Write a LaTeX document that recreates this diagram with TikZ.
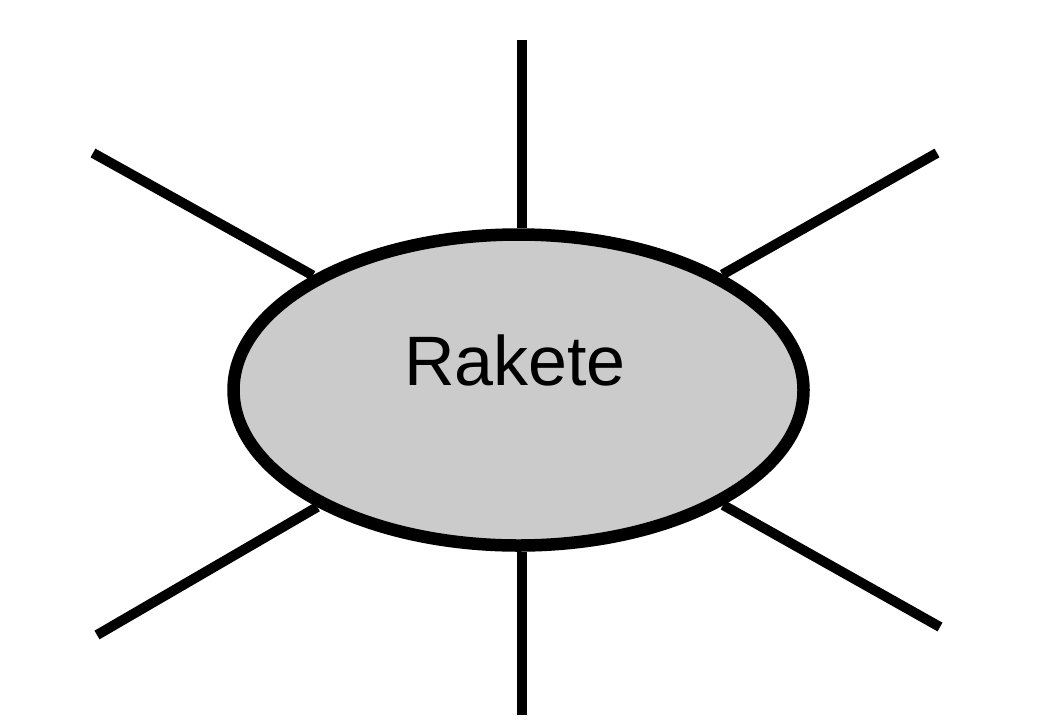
\documentclass[tikz,border=0pt]{standalone}
\usepackage{fontspec}
\setmainfont{Liberation Sans}
\usetikzlibrary{shapes.geometric}
\tikzset{
  core/.style={ellipse, draw=black, fill=corefill, line width=12.5pt,
    minimum width=570pt, minimum height=311pt, inner sep=0pt},
  ray/.style={draw=black, line width=10pt},
  caption/.style={font=\fontsize{70}{80}\selectfont, inner sep=0pt, anchor=base}
}
\definecolor{corefill}{HTML}{CBCBCB}
\begin{document}
\begin{tikzpicture}[x=1pt, y=-1pt]
  \useasboundingbox (0,0) rectangle (1064,720);
  % central ellipse with its label
  \node[core] (rak) at (518.5,390) {};
  \node[caption] (lbl) at (515,385) {Rakete};
  % outer ends of the rays
  \coordinate (n)  at (522,40);
  \coordinate (s)  at (522,715);
  \coordinate (nw) at (93,153);
  \coordinate (ne) at (937,153);
  \coordinate (sw) at (97,635);
  \coordinate (se) at (940,627);
  % vertical rays
  \draw[ray] (n) -- (n |- rak.north);
  \draw[ray] (s) -- (s |- rak.south);
  % diagonal rays
  \foreach \p in {nw,ne,sw,se}
    \draw[ray] (\p) -- (rak);
\end{tikzpicture}
\end{document}
